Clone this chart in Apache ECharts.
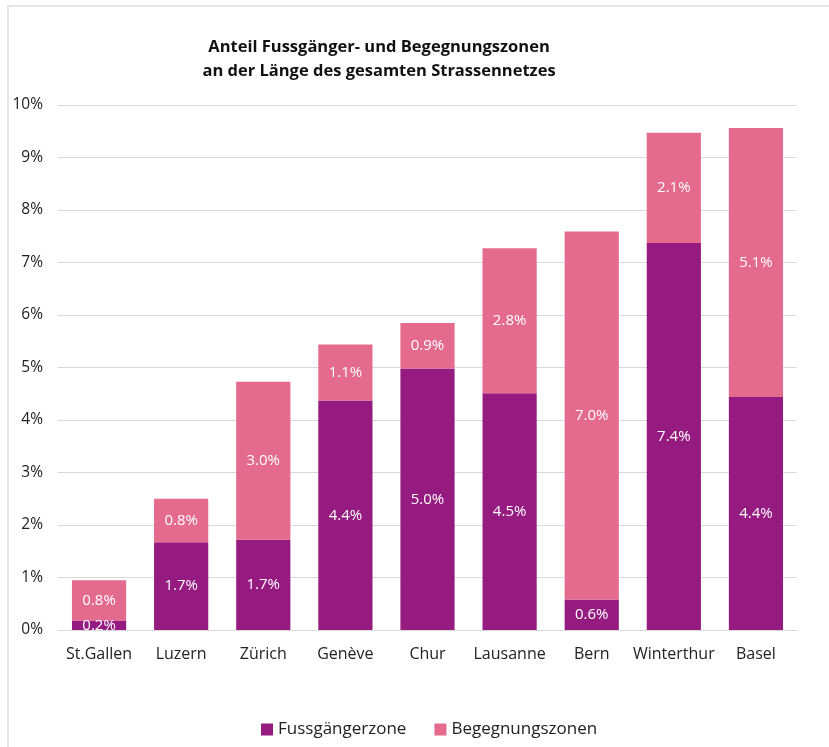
<!DOCTYPE html>
<html><head><meta charset="utf-8">
<script src="https://cdn.jsdelivr.net/npm/echarts@6/dist/echarts.min.js"></script>
<style>
html,body{margin:0;padding:0;background:#fff;}
#frame{position:absolute;left:7px;top:5px;width:822px;height:742px;border-top:2px solid #e6e6e6;border-left:2px solid #e6e6e6;box-sizing:border-box;}
#chart{position:absolute;left:0;top:0;width:829px;height:747px;}
</style></head>
<body>
<div id="frame"></div>
<div id="chart"></div>
<script>
const categories = ['St.Gallen','Luzern','Zürich','Genève','Chur','Lausanne','Bern','Winterthur','Basel'];
const fussgaenger = [0.18, 1.67, 1.72, 4.37, 4.98, 4.51, 0.58, 7.37, 4.44];
const begegnung = [0.77, 0.83, 3.01, 1.07, 0.87, 2.76, 7.01, 2.1, 5.12];
const yTicks = [0,1,2,3,4,5,6,7,8,9,10];
const seriesNames = ['Fussgängerzone','Begegnungszonen'];
const colors = ['#951B81','#E46A8E'];
const font = 'Open Sans';

const chart = echarts.init(document.getElementById('chart'), null, {renderer:'canvas'});
const lbl = {show:true, position:'inside', color:'#fff', fontFamily:font, fontSize:15,
  formatter: p => p.value.toFixed(1) + '%'};
chart.setOption({
  backgroundColor:'transparent',
  animation:false,
  title:{
    text:'Anteil Fussgänger- und Begegnungszonen\nan der Länge des gesamten Strassennetzes',
    left:374, top:30, textAlign:'center',
    textStyle:{fontFamily:font, fontSize:16.5, fontWeight:'bold', color:'#111', lineHeight:24}
  },
  legend:{
    data:seriesNames, left:256, top:716, itemWidth:12, itemHeight:12, itemGap:28,
    icon:'rect',
    textStyle:{fontFamily:font, fontSize:17, color:'#222'}
  },
  grid:{left:58, right:32, top:105, bottom:117, containLabel:false},
  xAxis:{
    type:'category', data:categories,
    axisLine:{show:true, lineStyle:{color:'#d9d9d9'}},
    axisTick:{show:false},
    axisLabel:{fontFamily:font, fontSize:16, color:'#222', margin:16, interval:0}
  },
  yAxis:{
    type:'value', min:0, max:10, interval:1,
    axisLine:{show:false}, axisTick:{show:false},
    splitLine:{lineStyle:{color:'#d9d9d9'}},
    axisLabel:{fontFamily:font, fontSize:15.5, color:'#222', margin:15,
      formatter: v => yTicks.includes(v) ? v + '%' : ''}
  },
  series:[
    {name:seriesNames[0], type:'bar', stack:'a', data:fussgaenger, barCategoryGap:'34%',
     itemStyle:{color:colors[0]}, label:lbl},
    {name:seriesNames[1], type:'bar', stack:'a', data:begegnung, barCategoryGap:'34%',
     itemStyle:{color:colors[1]}, label:lbl}
  ]
});
</script>
</body></html>
